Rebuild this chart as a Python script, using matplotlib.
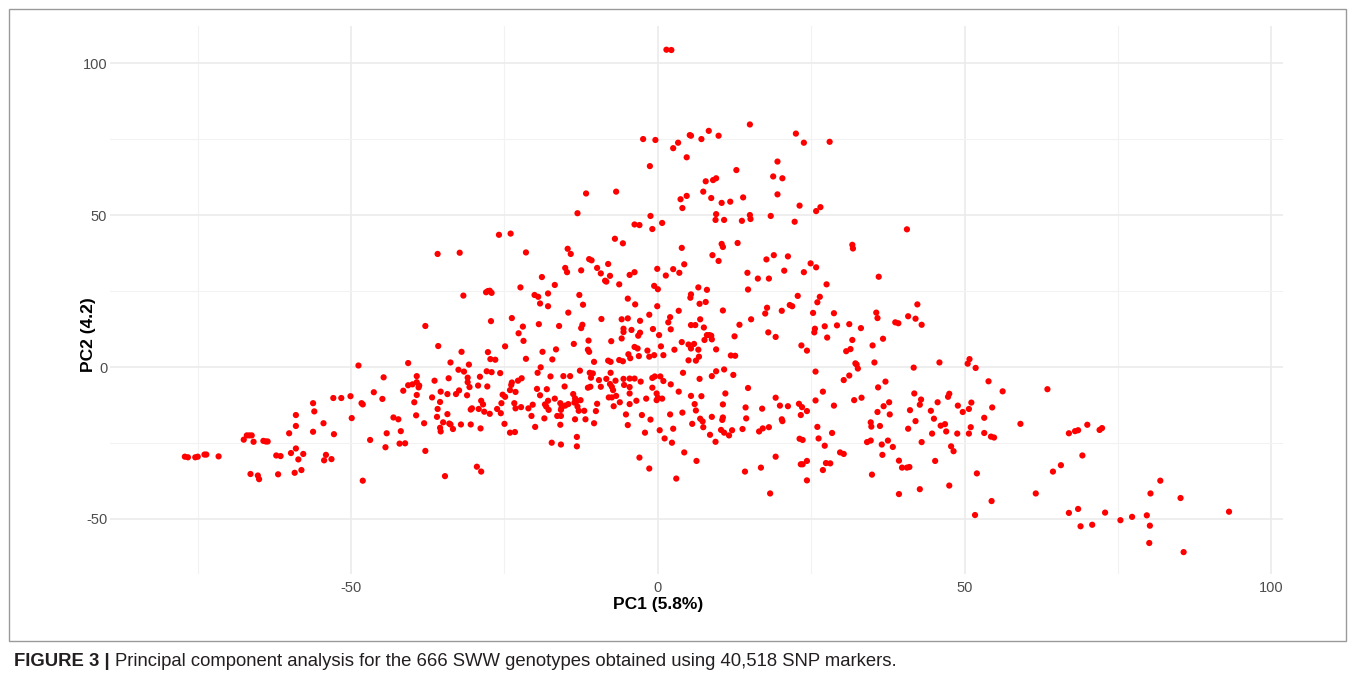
import matplotlib.pyplot as plt
from matplotlib.patches import Rectangle

plt.rcParams['font.family'] = ['Liberation Sans', 'DejaVu Sans']
plt.rcParams['axes.unicode_minus'] = False

# PCA scores (PC1, PC2), grouped by region
top_group = [
    (1.4, 104.4), (2.2, 104.3), (-2.4, 75.0), (-0.4, 74.7), (2.5, 72.0), (3.3, 73.8),
    (5.2, 76.3), (5.4, 76.1), (7.1, 75.0), (4.7, 69.0), (-1.3, 66.1), (4.7, 56.3),
    (3.7, 55.2), (4.0, 52.3), (-11.7, 57.1), (-6.8, 57.7), (-13.1, 50.6), (-1.2, 49.7),
    (8.3, 77.7), (9.9, 76.1), (15.0, 79.8), (22.5, 76.8), (23.8, 73.8), (28.0, 74.1),
    (19.5, 67.6), (12.8, 64.8), (7.8, 61.1), (9.0, 61.5), (9.5, 62.1), (18.8, 62.7),
    (20.3, 62.1), (7.4, 57.7), (8.7, 55.6), (10.4, 54.0), (11.8, 54.4), (13.9, 55.8),
    (19.5, 56.8), (23.1, 53.1), (25.8, 51.3), (26.5, 52.6), (9.5, 50.3), (15.0, 50.0),
    (18.4, 49.7),
]

left_group = [
    (-35.9, 37.2), (-37.9, 13.5), (-40.7, 1.3), (-48.8, 0.5), (-44.7, -3.4), (-39.3, -3.0),
    (-40.7, -6.0), (-40.0, -5.7), (-39.3, -5.0), (-38.9, -6.1), (-39.0, -6.7), (-36.4, -4.5),
    (-41.5, -7.8), (-46.3, -8.3),
    (-52.9, -10.2), (-51.6, -10.2), (-50.1, -9.6), (-48.1, -12.3), (-48.3, -11.9), (-44.9, -10.5),
    (-39.3, -9.2), (-39.7, -11.6), (-36.8, -10.0), (-56.2, -11.9), (-56.0, -14.6), (-59.0, -15.8),
    (-59.0, -19.4), (-60.1, -21.8), (-56.2, -21.3), (-54.5, -18.5), (-52.8, -22.1), (-49.9, -16.8),
    (-43.1, -16.6), (-42.3, -17.2), (-44.2, -21.8), (-41.9, -21.1), (-39.4, -15.9), (-38.1, -18.5),
    (-36.0, -16.4), (-46.9, -24.0), (-44.4, -26.4), (-42.1, -25.2), (-41.2, -25.1), (-37.9, -27.6),
    (-67.5, -23.9), (-67.0, -22.5), (-66.6, -22.5), (-66.2, -22.5), (-65.9, -24.6), (-64.3, -24.3),
    (-63.9, -24.5), (-63.6, -24.5), (-77.1, -29.5), (-76.6, -29.7), (-75.4, -29.7), (-75.0, -29.5),
    (-73.9, -28.8), (-73.6, -28.8), (-71.6, -29.4), (-66.4, -35.2), (-65.2, -35.7), (-65.0, -36.9),
    (-62.2, -29.1), (-61.5, -29.3), (-59.8, -28.3), (-59.0, -26.8), (-57.8, -28.6), (-58.6, -30.4),
    (-61.9, -35.3), (-59.2, -34.8), (-58.1, -33.9), (-54.1, -28.9), (-54.4, -30.7), (-53.2, -30.3),
    (-48.1, -37.4),
]

centre_upper = [
    (-3.8, 46.9), (-3.0, 46.7), (-0.9, 45.4), (0.7, 47.4), (-32.3, 37.6), (-25.9, 43.5),
    (-24.0, 43.9), (-21.5, 37.7), (-14.7, 38.9), (-14.2, 37.2), (-7.0, 42.2), (-5.7, 40.7),
    (3.9, 39.2), (-11.2, 35.5), (-10.8, 35.1), (-15.1, 32.6), (-14.8, 31.2), (-12.5, 31.8),
    (-9.9, 32.6), (-9.3, 30.8), (-8.1, 33.9), (-7.8, 30.0), (-8.6, 28.4), (-8.4, 28.1),
    (-6.3, 27.2), (-3.8, 31.2), (-4.6, 30.3), (-0.1, 32.3), (1.3, 30.1), (2.5, 32.2),
    (3.5, 31.0), (4.3, 33.8), (-18.9, 29.6), (-16.8, 27.0), (-22.4, 26.2), (-28.0, 24.6),
    (-27.7, 25.0), (-27.4, 25.1), (-27.1, 24.4), (-31.7, 23.5), (-20.1, 23.7), (-19.5, 23.1),
    (-17.9, 24.2), (-19.2, 20.9), (-17.9, 20.0), (-12.8, 23.7), (-12.2, 20.5), (-14.6, 17.9),
    (-0.6, 26.7), (0.0, 25.6), (-4.9, 22.5), (-3.7, 20.6), (-0.1, 20.0), (6.6, 26.2),
    (5.4, 23.9), (5.3, 22.8), (6.8, 20.8), (3.4, 18.5), (-1.4, 17.2), (2.0, 16.4),
    (1.7, 14.7), (2.1, 12.4), (-2.9, 15.2), (-5.9, 15.7), (-4.9, 16.0), (-9.2, 15.8),
    (-5.6, 12.6), (-5.6, 11.5), (-4.3, 12.2), (-2.9, 11.3), (-3.2, 10.3), (-0.8, 12.5),
    (0.2, 10.5), (5.4, 13.8), (6.1, 13.8), (6.9, 15.7), (-23.8, 16.1), (-27.2, 15.1),
    (-22.0, 13.3), (-19.4, 14.1), (-16.1, 13.5), (-12.5, 12.8), (-12.3, 13.9), (-22.7, 11.1),
    (-21.9, 8.6), (-5.9, 9.4), (-7.6, 8.5), (-11.3, 8.7), (-13.7, 7.6), (-16.6, 5.8),
    (-17.2, 2.5), (-18.8, 5.0), (-21.5, 2.7), (-24.9, 6.8), (-27.7, 4.9), (-27.3, 2.6),
    (-26.5, 2.4), (-32.0, 5.0), (-35.8, 6.9), (-33.8, 1.5), (-30.8, 0.8), (-32.5, -0.9),
    (-31.6, -1.5), (-34.1, -3.7), (-31.0, -3.5), (-31.0, -5.0), (-30.7, -6.6), (-29.0, -3.2),
    (-29.3, -6.1), (-27.9, -1.4), (-27.8, -6.4), (-27.1, -1.7), (-25.7, -2.0), (-35.4, -8.1),
    (-32.4, -7.7), (-23.9, -5.9), (-23.8, -5.1), (-22.8, -4.5), (-22.2, -3.7), (-24.1, -7.6),
    (-23.2, -8.2), (-19.6, -1.9), (-19.1, -0.1), (-17.5, -3.1), (-19.7, -7.2), (-18.1, -7.3),
    (-15.4, -3.0), (-14.3, -3.0), (-15.2, -6.4), (-12.7, -1.2), (-11.1, -1.9), (-10.9, -3.5),
    (-10.6, -2.1), (-9.6, -4.3), (-11.4, -6.8), (-11.0, -6.5), (-9.3, -6.5), (-8.4, -3.9),
    (-7.7, -1.9), (-7.8, -5.6), (-7.5, -6.5), (-6.9, -4.5), (-7.3, -7.6), (-5.6, -3.9),
    (-4.6, -3.8), (-3.8, -3.8), (-5.5, -5.9), (-4.6, -6.6), (-8.1, 2.1), (-7.7, 1.7),
    (-6.3, 2.3), (-5.7, 1.9), (-11.4, 5.7), (-11.2, 5.0), (-10.4, 1.7), (-4.8, 4.2),
    (-3.8, 6.6), (-3.3, 6.1), (-4.5, 2.9), (-3.1, 3.6), (-1.7, 5.4), (-0.6, 3.9),
    (-1.4, 3.4), (0.5, 6.8), (0.9, 3.9), (2.7, 5.7), (3.9, 8.2), (5.0, 7.4),
    (5.4, 6.1), (5.9, 7.6), (6.6, 5.7), (5.0, 2.2), (6.2, 2.1), (6.7, 3.4),
    (-0.9, -3.6), (-0.5, -3.1), (0.4, -3.1), (-0.9, -6.8), (-2.8, -4.8), (0.9, -4.6),
    (2.1, -5.7), (4.1, -1.9), (6.8, -3.9), (3.4, -8.1),
]

right_upper = [
    (9.4, 48.4), (10.8, 48.4), (13.7, 48.1), (15.1, 48.7), (22.3, 47.8), (40.6, 45.3),
    (10.4, 40.5), (10.6, 39.5), (13.0, 40.8), (31.7, 40.2), (31.8, 39.0), (8.9, 36.8),
    (9.9, 34.9), (17.7, 35.4), (18.9, 36.8), (21.2, 36.4), (24.9, 34.1), (25.8, 32.8),
    (14.6, 31.0), (16.3, 29.1), (18.1, 29.1), (20.6, 31.7), (23.8, 31.2), (36.0, 29.7),
    (27.5, 27.2), (8.0, 25.4), (14.7, 25.5), (22.8, 23.4), (26.4, 23.1), (26.0, 21.3),
    (7.8, 21.4), (10.6, 18.6), (17.8, 19.5), (17.5, 17.6), (20.2, 18.5), (21.5, 20.4),
    (21.9, 20.0), (25.3, 17.8), (28.7, 17.7), (35.6, 17.9), (35.8, 16.1), (42.3, 20.6),
    (40.8, 16.7), (42.0, 15.9), (43.0, 13.9), (38.7, 14.7), (39.2, 14.4), (7.5, 13.0),
    (13.3, 13.9), (15.2, 15.7), (12.5, 10.1), (8.0, 10.5), (8.4, 10.5), (8.7, 10.3),
    (7.6, 8.9), (8.8, 9.1), (9.5, 5.8), (18.0, 11.4), (19.2, 9.9), (25.6, 12.6),
    (25.5, 11.4), (27.2, 13.4), (29.2, 13.7), (31.2, 14.1), (33.1, 12.8), (27.6, 9.7),
    (31.7, 8.9), (36.7, 9.3), (23.4, 7.1), (24.3, 5.4), (30.7, 5.2), (31.4, 5.9),
    (35.0, 7.1), (11.9, 3.8), (12.6, 3.7), (32.2, 1.2), (32.4, 0.8), (32.6, -0.5),
    (35.3, 1.5), (45.9, 1.5), (41.7, -0.2), (25.7, -1.5), (10.8, -0.8), (9.5, -1.4),
    (8.8, -3.0), (12.3, -2.6), (31.2, -2.8), (30.3, -4.3), (37.1, -4.8), (35.9, -6.7),
    (14.7, -6.9), (26.9, -8.1),
]

centre_lower = [
    (-34.3, -8.9), (-32.9, -8.9), (-31.1, -9.3), (-35.5, -11.5), (-35.9, -13.8), (-34.3, -15.5),
    (-35.0, -18.2), (-34.0, -18.6), (-33.8, -18.9), (-35.5, -20.0), (-35.4, -21.2), (-33.4, -20.4),
    (-32.1, -18.9), (-30.5, -18.9), (-30.5, -14.0), (-30.3, -13.6), (-29.2, -13.8), (-28.8, -11.1),
    (-28.5, -12.3), (-28.3, -14.7), (-27.4, -15.4), (-28.9, -20.2), (-26.2, -13.8), (-25.6, -15.2),
    (-25.5, -11.9), (-25.3, -9.1), (-24.9, -9.8), (-25.0, -18.7), (-24.1, -21.6), (-23.3, -21.4),
    (-23.4, -11.9), (-23.2, -13.6), (-22.3, -13.2), (-21.1, -13.6), (-20.4, -12.4), (-20.6, -16.1),
    (-20.0, -19.7), (-19.2, -9.3), (-18.4, -12.3), (-18.2, -13.0), (-17.9, -11.1), (-17.8, -14.1),
    (-18.5, -16.9), (-16.8, -10.4), (-16.4, -16.1), (-15.8, -16.1), (-15.9, -11.9), (-15.7, -13.4),
    (-15.8, -14.1), (-15.9, -19.0), (-15.1, -12.7), (-14.6, -12.2), (-17.3, -24.9), (-15.8, -25.5),
    (-13.8, -8.9), (-13.5, -10.3), (-13.2, -11.2), (-13.6, -11.7), (-12.6, -10.9), (-13.1, -13.0),
    (-12.9, -14.4), (-12.0, -14.4), (-13.5, -17.2), (-11.8, -17.2), (-13.2, -23.0), (-13.2, -26.1),
    (-10.4, -18.5), (-10.1, -14.5), (-9.9, -12.1), (-8.0, -10.0), (-7.5, -10.0), (-6.8, -9.5),
    (-7.2, -12.9), (-6.2, -11.6), (-4.6, -8.7), (-4.6, -12.2), (-5.2, -15.6), (-4.9, -19.1),
    (-3.5, -11.1), (-1.9, -10.4), (-2.6, -15.8), (-1.2, -17.3), (-2.1, -21.6), (-3.0, -29.8),
    (-1.4, -33.4), (-0.2, -8.7), (0.0, -10.1), (-0.2, -10.9), (0.7, -10.4), (0.3, -20.8),
    (1.1, -23.5), (2.0, -15.6), (2.5, -20.3), (2.3, -24.9), (4.0, -15.0), (4.3, -28.1),
    (3.0, -36.7), (5.4, -9.5), (7.1, -9.6), (6.0, -12.2), (6.2, -14.3), (5.6, -18.7),
    (6.9, -17.0), (6.3, -30.9), (-28.8, -34.4), (-29.5, -32.8), (-34.7, -35.9),
]

right_lower = [
    (11.0, -8.7), (10.6, -12.3), (19.2, -10.1), (19.9, -12.7), (21.2, -12.9), (23.0, -12.1),
    (23.5, -13.2), (24.3, -14.5), (25.7, -11.0), (28.7, -12.7), (32.0, -10.9), (33.2, -10.1),
    (35.8, -14.8), (36.8, -12.9), (37.7, -11.6), (37.8, -15.6), (41.8, -8.7), (42.9, -10.7),
    (42.7, -12.4), (41.1, -14.2), (44.5, -14.4), (45.6, -11.6), (47.3, -9.8), (47.5, -8.8),
    (48.9, -12.7), (49.7, -14.8), (7.3, -17.9), (7.4, -19.8), (8.8, -16.4), (10.5, -17.4),
    (10.6, -16.6), (10.3, -20.7), (10.8, -21.6), (12.1, -20.8), (11.6, -22.5), (14.3, -13.3),
    (14.4, -16.9), (13.8, -20.4), (17.0, -13.7), (16.5, -21.2), (17.1, -20.2), (18.1, -19.8),
    (20.2, -17.2), (20.3, -17.8), (8.5, -22.3), (9.4, -24.6), (23.3, -15.8), (26.0, -19.7),
    (26.2, -23.5), (23.1, -23.6), (23.6, -24.0), (28.4, -21.7), (27.2, -25.9), (29.7, -28.1),
    (30.3, -28.6), (34.7, -18.2), (34.8, -19.6), (36.2, -19.4), (34.1, -24.7), (34.7, -24.2),
    (36.5, -25.5), (37.5, -24.2), (38.3, -26.3), (36.6, -28.9), (40.8, -20.3), (42.0, -17.8),
    (43.0, -24.7), (44.7, -21.9), (45.0, -17.0), (46.1, -19.3), (46.8, -18.8), (47.0, -21.2),
    (48.8, -21.9), (47.8, -26.1), (48.2, -27.7), (19.2, -29.5), (23.3, -32.0), (23.6, -32.0),
    (24.3, -30.9), (27.4, -31.6), (28.1, -31.7), (26.9, -33.9), (24.3, -37.3), (14.2, -34.4),
    (16.8, -33.1), (18.3, -41.6), (34.9, -35.4), (39.3, -30.8), (39.8, -33.1), (40.6, -33.1),
    (41.0, -32.9), (45.2, -30.9), (42.7, -40.2), (39.3, -41.8), (47.5, -39.0),
]

right_tail = [
    (50.8, 2.6), (50.5, 1.1), (51.8, -0.3), (53.9, -4.7), (56.2, -8.0), (63.5, -7.3),
    (51.1, -11.7), (50.7, -13.8), (54.5, -13.3), (53.2, -16.7), (51.0, -19.8), (50.7, -21.9),
    (53.2, -21.7), (54.3, -22.9), (54.8, -23.2), (59.1, -18.7), (67.0, -21.8), (68.0, -21.1),
    (68.5, -20.8), (70.0, -19.0), (72.0, -20.7), (72.4, -20.1), (69.2, -29.1), (65.7, -32.3),
    (64.4, -34.4), (52.0, -35.0), (61.6, -41.6), (54.4, -44.1), (51.7, -48.7), (67.0, -48.0),
    (68.5, -46.7), (72.9, -47.9), (68.9, -52.4), (70.8, -51.9), (75.4, -50.4), (77.3, -49.3),
    (79.7, -48.8), (80.2, -52.2), (80.1, -57.9), (80.3, -41.6), (81.9, -37.4), (85.2, -43.1),
    (85.7, -60.9), (93.1, -47.6),
]

groups = [top_group, left_group, centre_upper, right_upper, centre_lower, right_lower, right_tail]
pc1 = [p[0] for g in groups for p in g]
pc2 = [p[1] for g in groups for p in g]

x_ticks = [-50, 0, 50, 100]
y_ticks = [-50, 0, 50, 100]

fig = plt.figure(figsize=(13.55, 6.83), dpi=100)
W, H = 1355, 683

# panel position in pixels
left, right, top, bottom = 110, 1283, 26, 574
ax = fig.add_axes([left / W, 1 - bottom / H, (right - left) / W, (bottom - top) / H])

ax.scatter(pc1, pc2, s=20, color='#ff0000', edgecolors='none', zorder=3)

ax.set_xlim(-89.3, 101.9)
ax.set_ylim(-68.1, 112.2)
ax.set_xticks(x_ticks)
ax.set_yticks(y_ticks)
ax.set_xticks([-75, -25, 25, 75], minor=True)
ax.set_yticks([-25, 25, 75], minor=True)
ax.grid(which='major', color='#ebebeb', linewidth=1.2)
ax.grid(which='minor', color='#f2f2f2', linewidth=0.8)
ax.tick_params(which='both', length=0, labelsize=10.5, labelcolor='#4d4d4d')
ax.tick_params(axis='y', pad=2)
ax.tick_params(axis='x', pad=5)
for s in ax.spines.values():
    s.set_visible(False)
ax.set_axisbelow(True)

ax.set_xlabel('PC1 (5.8%)', fontsize=12.5, fontweight='bold')
ax.set_ylabel('PC2 (4.2)', fontsize=12.5, fontweight='bold')
ax.xaxis.set_label_coords((658 - left) / (right - left), -(597 - bottom) / (bottom - top))
ax.yaxis.set_label_coords(-(left - 96) / (right - left), (bottom - 335) / (bottom - top))

# frame around the figure
fig.patches.append(Rectangle((9 / W, 1 - 641 / H), (1346 - 9) / W, (641 - 9) / H,
                             transform=fig.transFigure, fill=False,
                             edgecolor='#9a9a9a', linewidth=1.0))

# caption
cap_y = 1 - 661 / H
t1 = fig.text(14 / W, cap_y, 'FIGURE 3 |', fontsize=13.3, fontweight='bold',
              va='center', ha='left', color='#231f20')
fig.canvas.draw()
bb = t1.get_window_extent()
fig.text((bb.x1 + 5) / W, cap_y,
         'Principal component analysis for the 666 SWW genotypes obtained using 40,518 SNP markers.',
         fontsize=13.3, va='center', ha='left', color='#231f20')

fig.savefig('out.png', dpi=100)
